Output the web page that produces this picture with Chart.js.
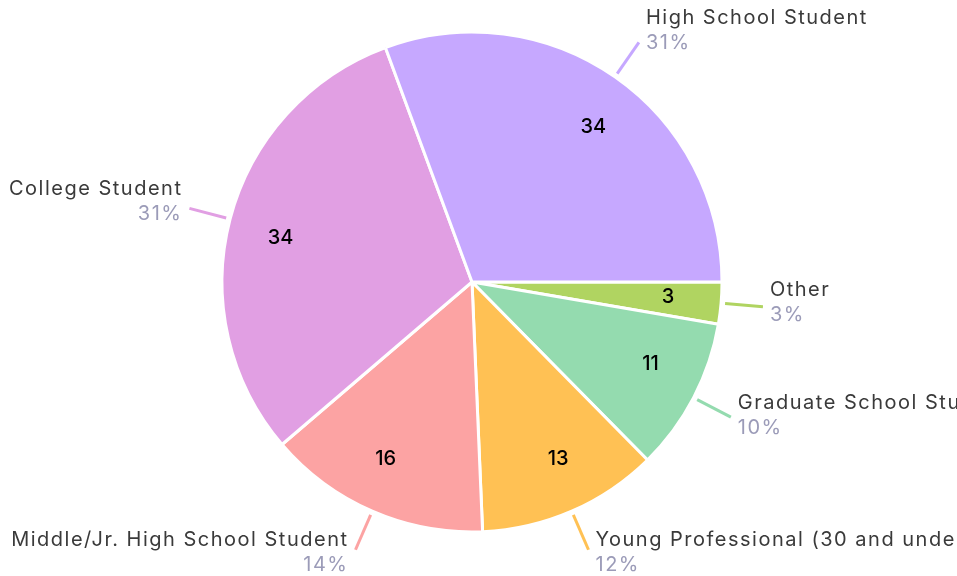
<!DOCTYPE html>
<html>
<head>
<meta charset="utf-8">
<script src="https://cdn.jsdelivr.net/npm/chart.js@4/dist/chart.umd.min.js"></script>
<style>
html,body{margin:0;padding:0;background:#fff;}
#wrap{width:957px;height:576px;position:relative;}
</style>
</head>
<body>
<div id="wrap"><canvas id="c"></canvas></div>
<script>
const categories = ["Other", "Graduate School Student", "Young Professional (30 and under)", "Middle/Jr. High School Student", "College Student", "High School Student"];
const counts = [3, 11, 13, 16, 34, 34];
const sliceColors = ["#b0d461", "#94dbaf", "#ffc154", "#fca3a3", "#e19fe3", "#c6a8ff"];

const FONT = "Inter, 'Noto Sans', sans-serif";
const total = counts.reduce((a, b) => a + b, 0);

const labelPlugin = {
  id: 'outLabels',
  afterDatasetsDraw(chart) {
    const ctx = chart.ctx;
    const meta = chart.getDatasetMeta(0);
    meta.data.forEach((arc, i) => {
      const p = arc.getProps(['x', 'y', 'startAngle', 'endAngle', 'outerRadius'], true);
      const mid = (p.startAngle + p.endAngle) / 2;
      const c = Math.cos(mid), s = Math.sin(mid);
      const R = p.outerRadius;
      // value inside (slightly pulled toward the horizontal axis)
      const va = mid - 0.06 * Math.sin(2 * mid);
      const vr = R * 0.786;
      ctx.save();
      ctx.fillStyle = '#000';
      ctx.font = '500 20px ' + FONT;
      ctx.textAlign = 'center';
      ctx.textBaseline = 'middle';
      ctx.fillText(String(counts[i]), p.x + Math.cos(va) * vr, p.y + Math.sin(va) * vr);
      // leader line
      const x1 = p.x + c * (R + 4), y1 = p.y + s * (R + 4);
      const x2 = p.x + c * (R + 42), y2 = p.y + s * (R + 42);
      ctx.strokeStyle = sliceColors[i];
      ctx.lineWidth = 3;
      ctx.beginPath();
      ctx.moveTo(x1, y1);
      ctx.lineTo(x2, y2);
      ctx.stroke();
      // text
      const right = c >= 0;
      const tx = right ? x2 + 7 : x2 - 7;
      const off = -5 + 8 * s;
      ctx.textAlign = right ? 'left' : 'right';
      ctx.textBaseline = 'middle';
      ctx.font = '400 20px ' + FONT;
      ctx.letterSpacing = '1.5px';
      ctx.fillStyle = '#3a3a3a';
      ctx.fillText(categories[i], tx, y2 + off - 12.5);
      ctx.fillStyle = '#9b9bb8';
      ctx.fillText(Math.round(counts[i] / total * 100) + '%', tx, y2 + off + 12.5);
      ctx.restore();
    });
  }
};

new Chart(document.getElementById('c'), {
  type: 'pie',
  data: {
    labels: categories,
    datasets: [{
      data: counts,
      backgroundColor: sliceColors,
      borderColor: '#ffffff',
      borderWidth: 3
    }]
  },
  options: {
    responsive: true,
    maintainAspectRatio: false,
    animation: false,
    rotation: 90,
    radius: 250,
    layout: { padding: { left: 0, right: 13, top: 0, bottom: 12 } },
    plugins: {
      legend: { display: false },
      tooltip: { enabled: false }
    }
  },
  plugins: [labelPlugin]
});
</script>
</body>
</html>
